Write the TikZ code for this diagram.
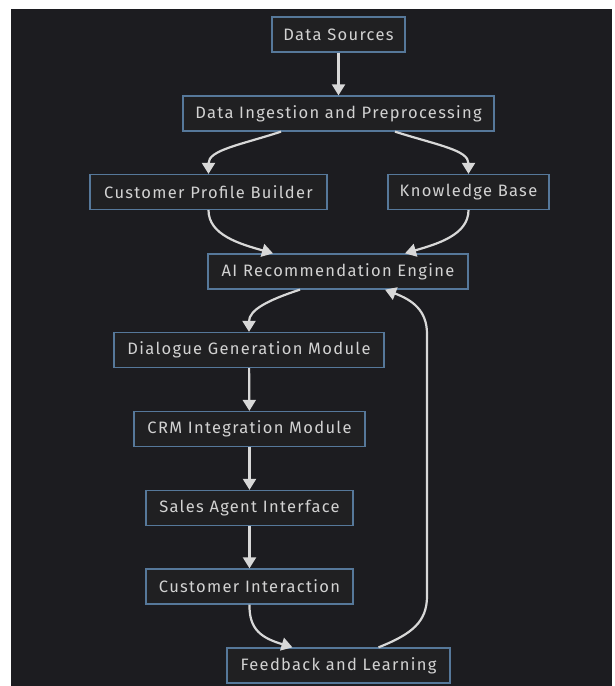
\documentclass[tikz,border=0pt]{standalone}
\usepackage{fontspec}
\setmainfont{Fira Sans}[LetterSpace=8]
\usetikzlibrary{arrows.meta}

\definecolor{pagebg}{HTML}{1C1C20}
\definecolor{boxfill}{HTML}{202022}
\definecolor{boxline}{HTML}{56789A}
\definecolor{textgray}{HTML}{D2D2D2}
\definecolor{linegray}{HTML}{D8D8D8}

\tikzset{
  box/.style={rectangle, draw=boxline, fill=boxfill, line width=1.3pt,
    text=textgray, minimum height=35pt, inner xsep=9pt,
    font=\fontsize{16.5}{19}\selectfont},
  flow/.style={-{Triangle[length=11pt,width=13pt]}, draw=linegray,
    line width=2.2pt}
}

\begin{document}
\begin{tikzpicture}[x=1pt,y=1pt]
  \useasboundingbox (0,0) rectangle (614,-686);
  \fill[white] (0,0) rectangle (614,-686);
  \fill[pagebg] (11,-9) rectangle (612,-686);

  \node[box, minimum width=133pt] (src) at (338.5,-34.5) {Data Sources};
  \node[box, minimum width=311pt] (ingest) at (338.5,-113.5)
       {Data Ingestion and Preprocessing};
  \node[box, minimum width=237pt] (profile) at (208.5,-192)
       {Customer Profile Builder};
  \node[box, minimum width=161pt] (kb) at (468.5,-192) {Knowledge Base};
  \node[box, minimum width=260pt] (engine) at (338,-271.5)
       {AI Recommendation Engine};
  \node[box, minimum width=270pt] (dialogue) at (249,-350)
       {Dialogue Generation Module};
  \node[box, minimum width=231pt] (crm) at (249.5,-429)
       {CRM Integration Module};
  \node[box, minimum width=207pt] (agent) at (249.5,-508)
       {Sales Agent Interface};
  \node[box, minimum width=207pt] (interact) at (249.5,-586.5)
       {Customer Interaction};
  \node[box, minimum width=223pt] (feedback) at (338.5,-665.5)
       {Feedback and Learning};

  \draw[flow] (src) -- (ingest);
  \draw[flow] ([xshift=-57.5pt]ingest.south) .. controls (240,-145) and (208.5,-150) .. (profile.north);
  \draw[flow] ([xshift=56.5pt]ingest.south) .. controls (437,-145) and (468.5,-150) .. (kb.north);
  \draw[flow] (profile.south) .. controls (208.5,-235) and (240,-244) .. ([xshift=-65pt]engine.north);
  \draw[flow] (kb.south) .. controls (468.5,-235) and (437,-244) .. ([xshift=67pt]engine.north);
  \draw[flow] ([xshift=-38pt]engine.south) .. controls (268,-300) and (249,-310) .. (dialogue.north);
  \draw[flow] (dialogue) -- (crm);
  \draw[flow] (crm) -- (agent);
  \draw[flow] (agent) -- (interact);
  \draw[flow] (interact.south) .. controls (249,-630) and (262,-638) .. ([xshift=-46pt]feedback.north);
  \draw[flow] ([xshift=40pt]feedback.north) .. controls (412,-634) and (427,-622) .. (427,-596)
       -- (427,-334) .. controls (427,-310) and (412,-300) .. ([xshift=47pt]engine.south);
\end{tikzpicture}
\end{document}
